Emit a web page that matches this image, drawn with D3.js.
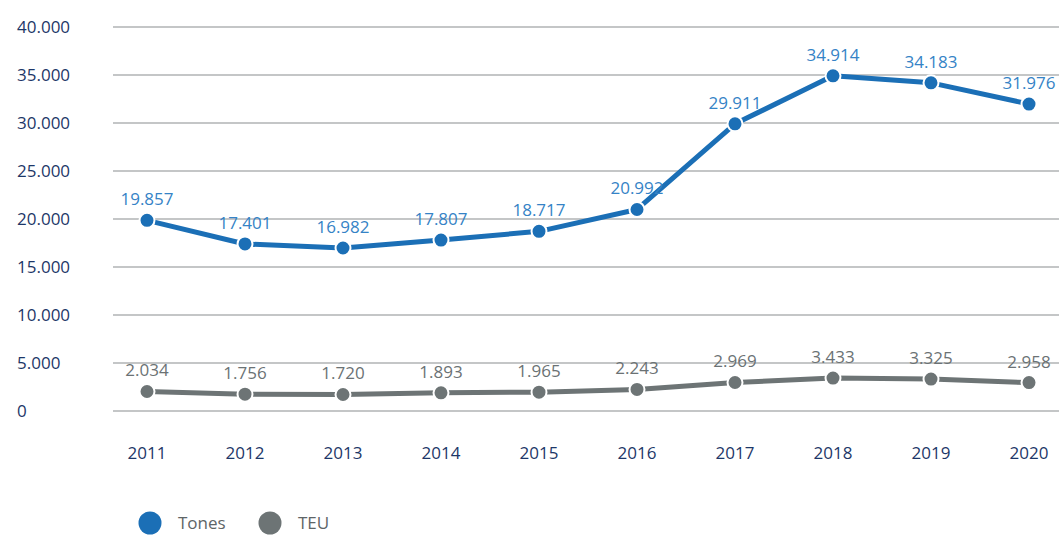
<!DOCTYPE html>
<html><head><meta charset="utf-8">
<script src="https://cdn.jsdelivr.net/npm/d3@7"></script>
<style>
body{margin:0;background:#fff;}
svg text{font-family:"Open Sans","Noto Sans",sans-serif;}
</style></head>
<body><svg id="c" width="1059" height="538"></svg>
<script>
const years = ["2011","2012","2013","2014","2015","2016","2017","2018","2019","2020"];
const tones = [19857,17401,16982,17807,18717,20992,29911,34914,34183,31976];
const teu = [2034,1756,1720,1893,1965,2243,2969,3433,3325,2958];
const yTicks = [0,5000,10000,15000,20000,25000,30000,35000,40000];
const seriesNames = ["Tones","TEU"];

const svg = d3.select("#c");
const fmt = v => v === 0 ? "0" : d3.format(",")(v).replace(/,/g, ".");
const x = d3.scalePoint().domain(years).range([147, 1029]);
const y = d3.scaleLinear().domain([0, 40000]).range([411, 27]);

// gridlines
svg.append("g").selectAll("line").data(yTicks).join("line")
  .attr("x1", 113).attr("x2", 1059)
  .attr("y1", d => y(d)).attr("y2", d => y(d))
  .attr("stroke", "#8a8d8f").attr("stroke-width", 1.2);

// y labels
svg.append("g").selectAll("text").data(yTicks).join("text")
  .attr("x", 17).attr("y", d => y(d) + 6)
  .attr("fill", "#1d3768").attr("font-size", 17)
  .text(fmt);

// x labels
svg.append("g").selectAll("text").data(years).join("text")
  .attr("x", d => x(d)).attr("y", 459)
  .attr("text-anchor", "middle")
  .attr("fill", "#1d3768").attr("font-size", 17)
  .text(d => d);

const series = [
  {name: seriesNames[0], vals: tones, color: "#1b6fb6", label: "#3583c6"},
  {name: seriesNames[1], vals: teu, color: "#6d7475", label: "#6b7274"}
];

series.forEach(s => {
  const pts = years.map((yr, i) => [x(yr), y(s.vals[i])]);
  const g = svg.append("g");
  g.append("path")
    .attr("d", d3.line()(pts))
    .attr("fill", "none").attr("stroke", s.color).attr("stroke-width", 5)
    .attr("stroke-linejoin", "round");
  g.selectAll("circle").data(pts).join("circle")
    .attr("cx", d => d[0]).attr("cy", d => d[1]).attr("r", 7.5)
    .attr("fill", s.color).attr("stroke", "#fff").attr("stroke-width", 2);
  g.selectAll("text").data(years).join("text")
    .attr("x", d => x(d)).attr("y", (d, i) => y(s.vals[i]) - 15)
    .attr("text-anchor", "middle").attr("fill", s.label).attr("font-size", 17)
    .text((d, i) => fmt(s.vals[i]));
});

// legend
const lg = svg.append("g");
const legX = [150, 270];
series.forEach((s, i) => {
  lg.append("circle").attr("cx", legX[i]).attr("cy", 523).attr("r", 11.5).attr("fill", s.color);
  lg.append("text").attr("x", legX[i] + 28).attr("y", 529)
    .attr("fill", "#5e6567").attr("font-size", 17).text(s.name);
});
</script></body></html>
